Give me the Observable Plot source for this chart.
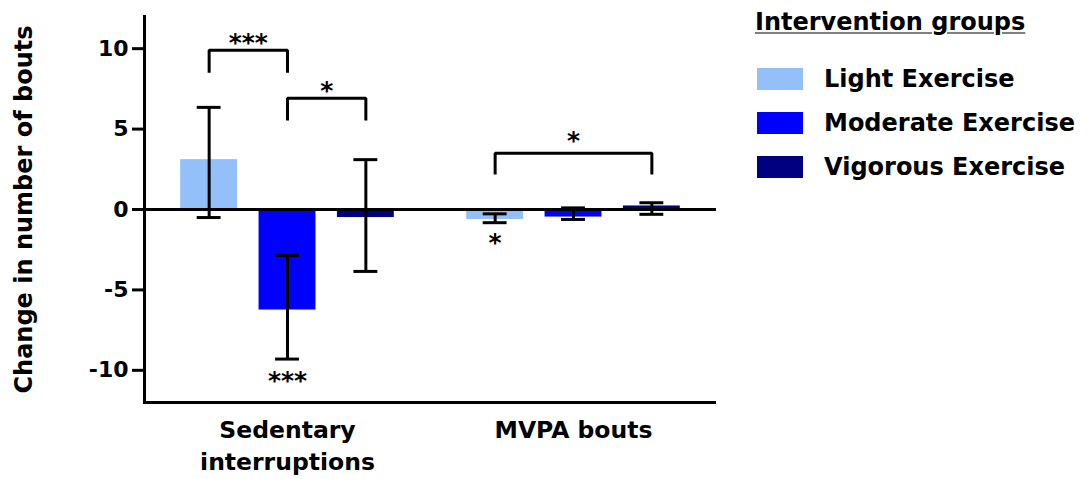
<!DOCTYPE html>
<html>
<head>
<meta charset="utf-8">
<script src="https://cdn.jsdelivr.net/npm/d3@7"></script>
<script src="https://cdn.jsdelivr.net/npm/@observablehq/plot@0.6"></script>
<style>
  body { margin: 0; background: #fff; font-family: "DejaVu Sans", sans-serif; }
  #wrap { position: relative; width: 1088px; height: 479px; overflow: hidden; }
  #chart { position: absolute; left: 0; top: 0; }
  #legend { position: absolute; left: 755px; top: 0; font-weight: bold; font-size: 24px; color: #000; }
  #legend .title { position: absolute; top: 8px; left: 0; white-space: nowrap; line-height: 28px;
    text-decoration: underline; text-decoration-color: #808080; text-decoration-thickness: 2px; text-underline-offset: 2px; }
  #legend .row { position: absolute; left: 2px; height: 44px; display: flex; align-items: center; white-space: nowrap; line-height: 28px; }
  #legend .sw { width: 46px; height: 22px; margin-right: 21px; }
</style>
</head>
<body>
<div id="wrap">
  <div id="chart"></div>
  <div id="legend"></div>
</div>
<script>
// ---- data ----
const categories = ["Sedentary interruptions", "MVPA bouts"];
const groups = ["Light Exercise", "Moderate Exercise", "Vigorous Exercise"];
const groupColors = ["#93c0f8", "#0000ff", "#000080"];
const sedentaryMean = [3.1, -6.25, -0.5];
const sedentaryLow = [-0.5, -9.3, -3.85];
const sedentaryHigh = [6.35, -2.85, 3.1];
const mvpaMean = [-0.62, -0.47, 0.22];
const mvpaLow = [-0.82, -0.62, -0.3];
const mvpaHigh = [-0.27, 0.1, 0.42];
const yTicks = [-10, -5, 0, 5, 10];
const yLabel = "Change in number of bouts";
const legendTitle = "Intervention groups";

// significance brackets
const bracketCategory = ["Sedentary interruptions", "Sedentary interruptions", "MVPA bouts"];
const bracketFrom = ["Light Exercise", "Moderate Exercise", "Light Exercise"];
const bracketTo = ["Moderate Exercise", "Vigorous Exercise", "Vigorous Exercise"];
const bracketTop = [9.9, 6.92, 3.5];
const bracketLeg = [8.5, 5.53, 2.18];
const bracketLabel = ["***", "*", "*"];
const bracketLabelY = [10.57, 7.59, 4.48];
// stars under single bars
const starCategory = ["Sedentary interruptions", "MVPA bouts"];
const starGroup = ["Moderate Exercise", "Light Exercise"];
const starY = [-10.45, -1.85];
const starLabel = ["***", "*"];

// ---- tables ----
const rows = [];
groups.forEach((g, i) => {
  rows.push({category: categories[0], group: g, mean: sedentaryMean[i], low: sedentaryLow[i], high: sedentaryHigh[i]});
  rows.push({category: categories[1], group: g, mean: mvpaMean[i], low: mvpaLow[i], high: mvpaHigh[i]});
});
const bracketPts = [];
bracketCategory.forEach((c, i) => {
  bracketPts.push({id: i, category: c, group: bracketFrom[i], y: bracketLeg[i]});
  bracketPts.push({id: i, category: c, group: bracketFrom[i], y: bracketTop[i]});
  bracketPts.push({id: i, category: c, group: bracketTo[i], y: bracketTop[i]});
  bracketPts.push({id: i, category: c, group: bracketTo[i], y: bracketLeg[i]});
});
const starRows = starCategory.map((c, i) => ({category: c, group: starGroup[i], y: starY[i], label: starLabel[i]}));
const bracketLabelRows = bracketCategory.map((c, i) => ({category: c, from: bracketFrom[i], to: bracketTo[i], y: bracketLabelY[i], label: bracketLabel[i]}));

const font = "DejaVu Sans, sans-serif";
const starStyle = {fontSize: 25, fontWeight: "bold", dy: 3.5};

function build(extraMarks) {
  return Plot.plot({
    width: 740,
    height: 479,
    marginLeft: 143,
    marginRight: 24,
    marginTop: 16,
    marginBottom: 77,
    style: {fontFamily: font, fontSize: "22px", fontWeight: "bold", color: "#000", background: "transparent", overflow: "visible"},
    fx: {domain: categories, padding: 0, label: null},
    x: {domain: groups, paddingInner: 0.274, paddingOuter: 0.462, axis: null, round: false},
    y: {domain: [-12, 12]},
    color: {domain: groups, range: groupColors},
    marks: [
      Plot.barY(rows, {fx: "category", x: "group", y: "mean", fill: "group"}),
      Plot.ruleY([0], {stroke: "#000", strokeWidth: 3}),
      Plot.ruleY([-12], {stroke: "#000", strokeWidth: 3}),
      Plot.frame({anchor: "left", facetAnchor: "left", stroke: "#000", strokeWidth: 3}),
      Plot.ruleX(rows, {fx: "category", x: "group", y1: "low", y2: "high", stroke: "#000", strokeWidth: 3}),
      Plot.tickY(rows, {fx: "category", x: "group", y: "low", stroke: "#000", strokeWidth: 3, insetLeft: 16.5, insetRight: 16.5}),
      Plot.tickY(rows, {fx: "category", x: "group", y: "high", stroke: "#000", strokeWidth: 3, insetLeft: 16.5, insetRight: 16.5}),
      Plot.line(bracketPts, {fx: "category", x: "group", y: "y", z: "id", stroke: "#000", strokeWidth: 3, strokeLinejoin: "miter", strokeLinecap: "butt"}),
      Plot.text(starRows, {fx: "category", x: "group", y: "y", text: "label", ...starStyle}),
      Plot.axisY({ticks: yTicks, tickSize: 12, tickPadding: 4, tickFormat: d => String(d), strokeWidth: 3,
        label: null, fontSize: 22}),
      Plot.axisY({ticks: [], tickSize: 0, label: yLabel, labelAnchor: "center", labelArrow: "none", labelOffset: 130, fontSize: 24}),
      Plot.axisFx({anchor: "bottom", tickSize: 0, tickPadding: 13, lineHeight: 1.35, fontSize: 23.5,
        tickFormat: d => d === "Sedentary interruptions" ? "Sedentary\ninterruptions" : d, label: null}),
      ...extraMarks
    ]
  });
}

// probe the x band scale to centre each bracket label between its two bars
const probe = build([]);
const xScale = probe.scale("x");
const step = xScale.apply(groups[1]) - xScale.apply(groups[0]);
const bracketLabelMarks = bracketLabelRows.map(r =>
  Plot.text([r], {fx: "category", x: "from", y: "y", text: "label", ...starStyle,
    dx: (groups.indexOf(r.to) - groups.indexOf(r.from)) * step / 2})
);
const chart = build(bracketLabelMarks);
document.getElementById("chart").appendChild(chart);

// legend
const legend = document.getElementById("legend");
const title = document.createElement("div");
title.className = "title";
title.textContent = legendTitle;
legend.appendChild(title);
groups.forEach((g, i) => {
  const row = document.createElement("div");
  row.className = "row";
  row.style.top = (57 + 44 * i) + "px";
  const sw = document.createElement("span");
  sw.className = "sw";
  sw.style.background = groupColors[i];
  const lab = document.createElement("span");
  lab.textContent = g;
  row.appendChild(sw);
  row.appendChild(lab);
  legend.appendChild(row);
});
</script>
</body>
</html>
